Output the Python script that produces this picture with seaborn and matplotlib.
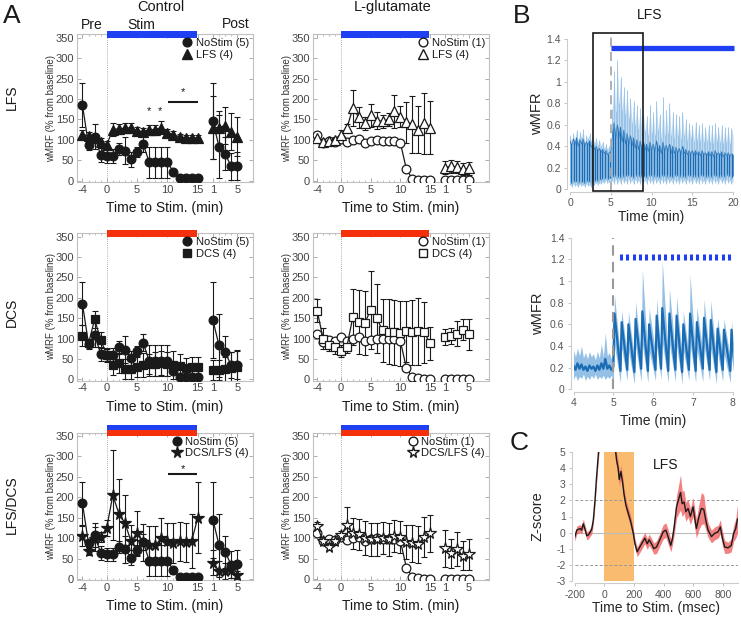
import numpy as np
import pandas as pd
import seaborn as sns
import matplotlib
matplotlib.use('Agg')
import matplotlib.pyplot as plt
from matplotlib.patches import Rectangle
from matplotlib.lines import Line2D

sns.set_theme(style='ticks')
plt.rcParams['font.family'] = ['Liberation Sans', 'DejaVu Sans']
plt.rcParams['text.color'] = '#1a1a1a'

W, H = 741, 617

# ---------------- panel A data (wMRF, % from baseline) ----------------
minutes = list(range(-4, 16))
post_minutes = [1, 2, 3, 4, 5]

ctrl_nostim = [185, 87, 108, 63, 60, 60, 78, 73, 52, 70, 90, 45, 45, 45, 45, 21, 6, 6, 6, 6]
ctrl_nostim_err = [53, 12, 30, 17, 17, 17, 15, 33, 18, 12, 20, 38, 38, 38, 38, 8, 3, 3, 3, 3]
ctrl_nostim_post = [145, 83, 66, 35, 36]
ctrl_nostim_post_err = [93, 77, 40, 33, 35]

ctrl_lfs = [113, 110, 105, 95, 88, 125, 127, 128, 130, 122, 120, 125, 125, 130, 117, 113, 107, 105, 105, 105]
ctrl_lfs_err = [12, 10, 10, 10, 10, 15, 12, 12, 12, 10, 10, 12, 12, 15, 10, 8, 8, 8, 8, 8]
ctrl_lfs_post = [130, 130, 135, 120, 108]
ctrl_lfs_post_err = [78, 40, 45, 45, 47]

ctrl_dcs = [107, 88, 147, 97, 60, 35, 40, 25, 25, 30, 35, 38, 38, 40, 38, 35, 33, 28, 30, 30]
ctrl_dcs_err = [25, 10, 20, 20, 15, 25, 25, 25, 25, 25, 30, 25, 30, 30, 30, 35, 30, 25, 25, 25]
ctrl_dcs_post = [22, 22, 25, 28, 30]
ctrl_dcs_post_err = [25, 25, 30, 40, 40]

ctrl_both = [105, 68, 98, 103, 125, 205, 160, 137, 92, 112, 90, 82, 82, 100, 92, 88, 92, 90, 93, 150]
ctrl_both_err = [25, 10, 30, 12, 20, 110, 85, 68, 40, 55, 45, 48, 48, 50, 45, 48, 48, 48, 67, 87]
ctrl_both_post = [40, 20, 20, 22, 10]
ctrl_both_post_err = [30, 25, 20, 20, 10]

glu_nostim = [112, 92, 97, 95, 103, 95, 100, 103, 93, 97, 100, 98, 98, 98, 93, 28, 5, 2, 1, 1]
glu_nostim_post = [1, 1, 1, 1, 1]

glu_lfs = [105, 95, 97, 100, 113, 128, 178, 155, 140, 160, 147, 145, 150, 170, 157, 143, 138, 125, 140, 130]
glu_lfs_err = [8, 8, 8, 8, 10, 10, 45, 25, 15, 28, 20, 15, 15, 40, 25, 50, 70, 57, 75, 65]
glu_lfs_post = [32, 35, 33, 28, 30]
glu_lfs_post_err = [15, 15, 15, 15, 15]

glu_dcs = [168, 100, 85, 78, 70, 80, 153, 140, 138, 170, 150, 120, 117, 115, 113, 118, 115, 118, 115, 88]
glu_dcs_err = [28, 25, 15, 15, 15, 15, 68, 78, 78, 95, 85, 78, 80, 80, 80, 75, 80, 82, 75, 40]
glu_dcs_post = [103, 107, 112, 122, 110]
glu_dcs_post_err = [20, 20, 30, 25, 38]

glu_both = [130, 93, 78, 92, 107, 132, 112, 110, 100, 97, 97, 100, 97, 105, 103, 90, 87, 85, 103, 112]
glu_both_err = [10, 8, 8, 8, 10, 43, 38, 38, 42, 40, 40, 40, 40, 40, 40, 42, 45, 45, 48, 45]
glu_both_post = [75, 63, 73, 57, 60]
glu_both_post_err = [45, 35, 42, 35, 38]

# ---------------- panel B data (wMFR) ----------------
# top trace, sampled every 0.2 min from 0 to 20
b1_light_hi = [0.50,
               0.44, 0.52, 0.46, 0.55, 0.45, 0.53, 0.48, 0.56, 0.44, 0.50,
               0.47, 0.52, 0.45, 0.49, 0.43, 0.48, 0.41, 0.46, 0.40, 0.44,
               0.38, 0.42, 0.37, 0.40, 0.38,
               0.75, 1.10, 0.72, 1.20, 0.80, 1.05, 0.74, 0.95, 0.70, 0.92,
               0.66, 0.85, 0.62, 0.82, 0.60, 0.78, 0.56, 0.76, 0.55, 0.70,
               0.54, 0.68, 0.50, 0.78, 0.52, 0.72, 0.50, 0.82, 0.55, 0.70,
               0.48, 0.86, 0.50, 0.74, 0.52, 0.80, 0.50, 0.72, 0.48, 0.70,
               0.50, 0.68, 0.47, 0.72, 0.50, 0.65, 0.46, 0.62, 0.48, 0.60,
               0.45, 0.63, 0.46, 0.60, 0.45, 0.62, 0.44, 0.58, 0.45, 0.60,
               0.44, 0.60, 0.43, 0.62, 0.45, 0.58, 0.44, 0.60, 0.43, 0.58,
               0.44, 0.58, 0.43, 0.57, 0.50]
b1_dark_hi = [0.45,
              0.40, 0.47, 0.41, 0.48, 0.40, 0.46, 0.42, 0.47, 0.39, 0.44,
              0.41, 0.45, 0.39, 0.42, 0.37, 0.40, 0.35, 0.38, 0.34, 0.37,
              0.33, 0.36, 0.32, 0.34, 0.35,
              0.50, 0.62, 0.45, 0.60, 0.48, 0.58, 0.44, 0.55, 0.42, 0.52,
              0.40, 0.50, 0.40, 0.48, 0.38, 0.46, 0.37, 0.45, 0.36, 0.44,
              0.36, 0.42, 0.35, 0.44, 0.35, 0.42, 0.34, 0.45, 0.35, 0.41,
              0.33, 0.44, 0.34, 0.41, 0.34, 0.42, 0.33, 0.40, 0.33, 0.39,
              0.33, 0.38, 0.32, 0.40, 0.33, 0.37, 0.32, 0.36, 0.32, 0.36,
              0.31, 0.36, 0.32, 0.35, 0.31, 0.36, 0.31, 0.34, 0.31, 0.35,
              0.31, 0.35, 0.30, 0.36, 0.31, 0.34, 0.31, 0.35, 0.30, 0.34,
              0.31, 0.34, 0.30, 0.33, 0.32]
b1_dark_lo = [0.08,
              0.05, 0.09, 0.06, 0.08, 0.05, 0.09, 0.06, 0.08, 0.05, 0.09,
              0.06, 0.08, 0.05, 0.09, 0.07, 0.10, 0.07, 0.10, 0.08, 0.11,
              0.09, 0.12, 0.09, 0.11, 0.10,
              0.14, 0.10, 0.15, 0.10, 0.14, 0.10, 0.15, 0.10, 0.14, 0.11,
              0.15, 0.11, 0.14, 0.10, 0.15, 0.11, 0.14, 0.10, 0.15, 0.11,
              0.14, 0.10, 0.15, 0.11, 0.14, 0.10, 0.15, 0.11, 0.14, 0.10,
              0.15, 0.11, 0.14, 0.10, 0.15, 0.11, 0.14, 0.10, 0.15, 0.11,
              0.14, 0.10, 0.15, 0.11, 0.14, 0.10, 0.15, 0.11, 0.14, 0.10,
              0.15, 0.11, 0.14, 0.10, 0.15, 0.11, 0.14, 0.10, 0.15, 0.11,
              0.14, 0.10, 0.15, 0.11, 0.14, 0.10, 0.15, 0.11, 0.14, 0.10,
              0.15, 0.11, 0.14, 0.10, 0.13]
b1_light_lo = [0.04,
               0.02, 0.05, 0.03, 0.04, 0.02, 0.05, 0.03, 0.04, 0.02, 0.05,
               0.03, 0.04, 0.02, 0.05, 0.04, 0.06, 0.04, 0.06, 0.05, 0.07,
               0.06, 0.08, 0.06, 0.07, 0.06,
               0.08, 0.05, 0.09, 0.05, 0.08, 0.05, 0.09, 0.06, 0.08, 0.05,
               0.09, 0.06, 0.08, 0.05, 0.09, 0.06, 0.08, 0.05, 0.09, 0.06,
               0.08, 0.05, 0.09, 0.06, 0.08, 0.05, 0.09, 0.06, 0.08, 0.05,
               0.09, 0.06, 0.08, 0.05, 0.09, 0.06, 0.08, 0.05, 0.09, 0.06,
               0.08, 0.05, 0.09, 0.06, 0.08, 0.05, 0.09, 0.06, 0.08, 0.05,
               0.09, 0.06, 0.08, 0.05, 0.09, 0.06, 0.08, 0.05, 0.09, 0.06,
               0.08, 0.05, 0.09, 0.06, 0.08, 0.05, 0.09, 0.06, 0.08, 0.05,
               0.09, 0.06, 0.08, 0.05, 0.07]

# bottom trace: baseline (4-5 min, every 0.05 min) then one spike per LFS pulse
b2_pre_hi = [0.36, 0.30, 0.38, 0.31, 0.40, 0.29, 0.34, 0.28, 0.35, 0.30, 0.33,
             0.27, 0.35, 0.29, 0.42, 0.30, 0.52, 0.31, 0.34, 0.28, 0.35]
b2_pre_mid = [0.22, 0.18, 0.24, 0.19, 0.23, 0.18, 0.21, 0.17, 0.22, 0.19, 0.21,
              0.17, 0.22, 0.18, 0.24, 0.19, 0.28, 0.19, 0.22, 0.18, 0.21]
b2_pre_lo = [0.09, 0.13, 0.08, 0.12, 0.10, 0.14, 0.08, 0.12, 0.09, 0.13, 0.10,
             0.14, 0.09, 0.12, 0.10, 0.13, 0.09, 0.12, 0.10, 0.13, 0.08]
pulse_t = [5.03, 5.21, 5.38, 5.56, 5.73, 5.90, 6.09, 6.23, 6.41,
           6.59, 6.76, 6.93, 7.10, 7.28, 7.45, 7.62, 7.78, 7.97]
pulse_hi = [0.87, 0.73, 0.72, 0.81, 1.11, 0.75, 0.84, 1.19, 0.93,
            0.86, 0.72, 1.06, 0.76, 0.83, 0.82, 0.66, 0.65, 0.63]
pulse_mid = [0.70, 0.62, 0.60, 0.65, 0.72, 0.60, 0.68, 0.75, 0.70,
             0.68, 0.60, 0.70, 0.62, 0.66, 0.64, 0.56, 0.55, 0.55]
pulse_lo = [0.40, 0.38, 0.36, 0.40, 0.42, 0.36, 0.40, 0.44, 0.42,
            0.40, 0.36, 0.42, 0.37, 0.40, 0.38, 0.34, 0.33, 0.33]
trough_hi = [0.30, 0.32, 0.29, 0.33, 0.30, 0.34, 0.31, 0.30, 0.33,
             0.29, 0.32, 0.30, 0.34, 0.31, 0.30, 0.33, 0.29, 0.30]
trough_mid = [0.17, 0.18, 0.16, 0.19, 0.17, 0.18, 0.19, 0.17, 0.18,
              0.16, 0.18, 0.17, 0.19, 0.18, 0.16, 0.18, 0.17, 0.17]
trough_lo = [0.06, 0.08, 0.05, 0.07, 0.06, 0.08, 0.09, 0.06, 0.07,
             0.05, 0.08, 0.06, 0.07, 0.08, 0.05, 0.07, 0.06, 0.06]
pulse_marks = [5.19, 5.35, 5.51, 5.67, 5.83, 5.99, 6.15, 6.31, 6.47,
               6.63, 6.79, 6.95, 7.11, 7.27, 7.43, 7.59, 7.75, 7.91]

# ---------------- panel C data (Z-score) ----------------
c_t = [-200, -186, -175, -164, -153, -142, -130, -119, -108, -97,
       -85, -74, -63, -52, -40, -30, 0, 40, 70, 83,
       94, 101, 112, 124, 133, 146, 162, 178, 196, 207,
       222, 240, 258, 274, 290, 303, 319, 335, 353, 375,
       398, 416, 431, 449, 461, 472, 488, 503, 515, 526,
       539, 551, 566, 582, 600, 611, 622, 640, 656, 672,
       685, 701, 724, 746, 769, 784, 798, 813, 836, 858,
       874, 888, 900]
c_z = [-0.3, 0.15, 0.2, 0.25, 0.15, 0.55, 0.2, -0.2, -0.15, 0.0,
       0.2, 0.8, 2.0, 3.5, 4.9, 6.0, 8.0, 8.0, 5.6, 4.5,
       4.0, 3.3, 3.8, 3.1, 2.4, 1.7, 1.2, 0.7, -0.05, -0.7,
       -1.2, -0.9, -0.6, -0.35, -0.7, -0.45, -0.7, -1.0, -0.9, -0.45,
       0.05, 0.15, -0.25, -0.8, -0.35, 0.35, 1.6, 2.1, 2.5, 1.8,
       1.9, 1.3, 1.5, 1.0, 1.6, 0.9, 0.25, 1.0, 1.5, 1.45,
       0.8, 0.15, -0.25, -0.05, 0.05, 0.35, -0.35, -0.9, -0.95, -0.8,
       -0.05, 0.25, 0.85]
c_sem = [0.25, 0.25, 0.25, 0.25, 0.25, 0.3, 0.25, 0.25, 0.25, 0.25,
         0.3, 0.3, 0.35, 0.4, 0.4, 0.5, 0.5, 0.5, 0.5, 0.45,
         0.45, 0.4, 0.4, 0.4, 0.35, 0.35, 0.35, 0.35, 0.3, 0.3,
         0.3, 0.35, 0.35, 0.35, 0.35, 0.35, 0.35, 0.35, 0.4, 0.4,
         0.45, 0.45, 0.45, 0.4, 0.4, 0.5, 0.7, 0.9, 1.1, 0.8,
         0.7, 0.6, 0.55, 0.5, 0.6, 0.6, 0.6, 0.8, 1.0, 0.9,
         0.6, 0.45, 0.4, 0.4, 0.4, 0.45, 0.45, 0.4, 0.35, 0.4,
         0.5, 0.6, 0.9]

BLUE = '#1f3ff2'
RED = '#f5300c'
DARK = '#1a6cb4'
LIGHT = '#94c0e6'
POST_SHIFT = 16.5


def box(l, t, r, b):
    return [l / W, 1 - b / H, (r - l) / W, (b - t) / H]


def ftext(x, y, s, **kw):
    fig.text(x / W, 1 - y / H, s, ha='center', va='center', **kw)


def style_a(ax, xlim):
    ax.set_xlim(*xlim)
    ax.set_ylim(-3, 358)
    post_pos = [m + POST_SHIFT for m in post_minutes]
    ax.set_xticks([-4, 0, 5, 10, 15, post_pos[0], post_pos[-1]])
    ax.set_xticklabels(['-4', '0', '5', '10', '15', '1', '5'])
    ax.set_xticks(minutes + post_pos, minor=True)
    ax.set_yticks(range(0, 351, 50))
    ax.set_yticklabels([str(v) for v in range(0, 351, 50)])
    ax.tick_params(which='major', direction='in', top=True, right=True, length=3,
                   width=0.6, color='#a0a0a0', labelsize=8, labelcolor='#444', pad=2)
    ax.tick_params(which='minor', direction='in', top=True, right=False, length=1.5,
                   width=0.5, color='#a0a0a0')
    for s in ax.spines.values():
        s.set_color('#c0c0c0')
        s.set_linewidth(0.8)
        s.set_visible(True)
    ax.axvline(0, color='#999', lw=0.6, ls=(0, (1, 1.5)), zorder=0)
    ax.set_ylabel('wMRF (% from baseline)', fontsize=7, color='#333', va='center')
    ax.yaxis.set_label_coords(-0.147, 0.5)
    ax.set_xlabel('Time to Stim. (min)', fontsize=10, color='#1a1a1a', va='center')
    ax.xaxis.set_label_coords(0.5, -0.177)


def draw_series(ax, y, err, yp, errp, marker, filled, ms):
    face = 'k' if filled else 'w'
    post_pos = [m + POST_SHIFT for m in post_minutes]
    for xs, ys, es in ((minutes, y, err), (post_pos, yp, errp)):
        if es is not None:
            ax.errorbar(xs, ys, yerr=es, fmt='none', ecolor='k', elinewidth=0.8,
                        capsize=2.2, capthick=0.8, zorder=2)
        d = pd.DataFrame({'x': xs, 'y': ys})
        sns.lineplot(data=d, x='x', y='y', ax=ax, color='k', linewidth=0.9,
                     marker=marker, markersize=ms, markerfacecolor=face,
                     markeredgecolor='k', markeredgewidth=0.9, zorder=3, legend=False)
    ax.set_xlabel('')
    ax.set_ylabel('')


def stim_bar(ax, colors):
    y0 = 350
    hh = 16 if len(colors) == 1 else 14
    for c in colors:
        ax.add_patch(Rectangle((0, y0), 14.8, hh, color=c, clip_on=False, lw=0, zorder=5))
        y0 += hh


fig = plt.figure(figsize=(W / 100, H / 100), dpi=100)

rows = [
    dict(t=34.4, b=181.9, colors=[BLUE], lab='LFS', laby=97,
         c=(ctrl_lfs, ctrl_lfs_err, ctrl_lfs_post, ctrl_lfs_post_err),
         g=(glu_lfs, glu_lfs_err, glu_lfs_post, glu_lfs_post_err),
         marker='^', ms=6.5, name='LFS (4)'),
    dict(t=233.4, b=380.5, colors=[RED], lab='DCS', laby=312,
         c=(ctrl_dcs, ctrl_dcs_err, ctrl_dcs_post, ctrl_dcs_post_err),
         g=(glu_dcs, glu_dcs_err, glu_dcs_post, glu_dcs_post_err),
         marker='s', ms=5.5, name='DCS (4)'),
    dict(t=432.7, b=580.2, colors=[RED, BLUE], lab='LFS/DCS', laby=505,
         c=(ctrl_both, ctrl_both_err, ctrl_both_post, ctrl_both_post_err),
         g=(glu_both, glu_both_err, glu_both_post, glu_both_post_err),
         marker='*', ms=8.5, name='DCS/LFS (4)'),
]

a_axes = []
for r in rows:
    # control column
    ax = fig.add_axes(box(77, r['t'], 253, r['b']))
    draw_series(ax, ctrl_nostim, ctrl_nostim_err, ctrl_nostim_post, ctrl_nostim_post_err,
                'o', True, 6.3)
    draw_series(ax, *r['c'], r['marker'], True, r['ms'])
    style_a(ax, (-4.9, 24.1))
    stim_bar(ax, r['colors'])
    hd = [Line2D([], [], ls='none', marker='o', ms=6.3, mfc='k', mec='k'),
          Line2D([], [], ls='none', marker=r['marker'], ms=r['ms'], mfc='k', mec='k')]
    ax.legend(hd, ['NoStim (5)', r['name']], loc='upper right', bbox_to_anchor=(1.0, 1.0),
              frameon=False, fontsize=8, handletextpad=0.3, labelspacing=0.15,
              borderaxespad=0.15, borderpad=0.2, handlelength=1.0)
    a_axes.append(ax)
    # L-glutamate column
    ax2 = fig.add_axes(box(313, r['t'], 489, r['b']))
    draw_series(ax2, glu_nostim, None, glu_nostim_post, None, 'o', False, 6.3)
    draw_series(ax2, *r['g'], r['marker'], False, r['ms'])
    style_a(ax2, (-4.7, 24.9))
    stim_bar(ax2, r['colors'])
    hd = [Line2D([], [], ls='none', marker='o', ms=6.3, mfc='w', mec='k'),
          Line2D([], [], ls='none', marker=r['marker'], ms=r['ms'], mfc='w', mec='k')]
    ax2.legend(hd, ['NoStim (1)', r['name']], loc='upper right', bbox_to_anchor=(1.0, 1.0),
               frameon=False, fontsize=8, handletextpad=0.3, labelspacing=0.15,
               borderaxespad=0.15, borderpad=0.2, handlelength=1.0)
    ftext(12, r['laby'], r['lab'], fontsize=10, rotation=90)

# significance marks
ax = a_axes[0]
ax.text(7, 170, '*', ha='center', va='center', fontsize=8)
ax.text(8.8, 170, '*', ha='center', va='center', fontsize=8)
ax.plot([10.15, 15.1], [192, 192], color='k', lw=1.5, solid_capstyle='butt')
ax.text(12.6, 218, '*', ha='center', va='center', fontsize=8)
ax = a_axes[2]
ax.plot([10.15, 14.9], [256, 256], color='k', lw=1.5, solid_capstyle='butt')
ax.text(12.5, 268, '*', ha='center', va='center', fontsize=8)

ftext(12, 16, 'A', fontsize=19)
ftext(161, 7, 'Control', fontsize=10.5)
ftext(393, 7, 'L-glutamate', fontsize=10.5)
ftext(92, 25, 'Pre', fontsize=10)
ftext(141, 25, 'Stim', fontsize=10)
ftext(236, 24, 'Post', fontsize=10)


def style_b(ax):
    sns.despine(ax=ax, offset=2)
    for s in ('left', 'bottom'):
        ax.spines[s].set_color('#cccccc')
        ax.spines[s].set_linewidth(0.8)
    ax.tick_params(direction='out', length=2.5, width=0.6, color='#bbbbbb',
                   labelsize=7.5, labelcolor='#555', pad=2)


# ---------------- panel B top ----------------
b1_t = np.round(np.arange(len(b1_light_hi)) * 0.2, 1)
axb = fig.add_axes(box(570, 39, 733, 189))
axb.fill_between(b1_t, b1_light_lo, b1_light_hi, color=LIGHT, alpha=0.6, lw=0)
axb.vlines(b1_t, b1_light_lo, b1_light_hi, color=LIGHT, lw=0.6)
axb.fill_between(b1_t, b1_dark_lo, b1_dark_hi, color=DARK, ec=DARK, lw=0.3)
sns.lineplot(x=b1_t, y=b1_dark_hi, ax=axb, color=DARK, linewidth=0.4)
axb.set_xlim(0, 20)
axb.set_ylim(0, 1.4)
axb.set_xticks([0, 5, 10, 15, 20])
axb.set_xticklabels(['0', '5', '10', '15', '20'])
axb.set_yticks([0, 0.2, 0.4, 0.6, 0.8, 1, 1.2, 1.4])
axb.set_yticklabels(['0', '0.2', '0.4', '0.6', '0.8', '1', '1.2', '1.4'])
style_b(axb)
axb.plot([5, 5], [-0.02, 1.46], color='#aaaaaa', lw=1.3, ls=(0, (5, 3)), clip_on=False, zorder=4)
axb.plot([5, 20.1], [1.32, 1.32], color=BLUE, lw=3.8, solid_capstyle='butt', clip_on=False, zorder=5)
axb.add_patch(Rectangle((2.8, -0.017), 6.1, 1.477, fill=False, ec='k', lw=1.2,
                        clip_on=False, zorder=6))
axb.set_ylabel('wMFR', fontsize=10.5, va='center')
axb.yaxis.set_label_coords(-0.2, 0.5)
axb.set_xlabel('Time (min)', fontsize=10, va='center')
axb.xaxis.set_label_coords(0.5, -0.19)
ftext(522, 16, 'B', fontsize=19)
ftext(650, 15, 'LFS', fontsize=10)

# ---------------- panel B bottom ----------------
b2_pre_t = list(np.round(4 + np.arange(len(b2_pre_hi)) * 0.05, 2))
trough_t = [t - 0.03 for t in pulse_t[1:]] + [8.05]
b2_t, b2_hi, b2_mid, b2_lo = list(b2_pre_t), list(b2_pre_hi), list(b2_pre_mid), list(b2_pre_lo)
for i in range(len(pulse_t)):
    b2_t += [pulse_t[i], trough_t[i]]
    b2_hi += [pulse_hi[i], trough_hi[i]]
    b2_mid += [pulse_mid[i], trough_mid[i]]
    b2_lo += [pulse_lo[i], trough_lo[i]]

axb2 = fig.add_axes(box(573.5, 237.7, 732.7, 389.3))
axb2.fill_between(b2_t, b2_lo, b2_hi, color=LIGHT, lw=0)
sns.lineplot(x=b2_t, y=b2_mid, ax=axb2, color=DARK, linewidth=1.6, sort=False)
axb2.set_xlim(4, 8)
axb2.set_ylim(0, 1.4)
axb2.set_xticks([4, 5, 6, 7, 8])
axb2.set_xticklabels(['4', '5', '6', '7', '8'])
axb2.set_yticks([0, 0.2, 0.4, 0.6, 0.8, 1, 1.2, 1.4])
axb2.set_yticklabels(['0', '0.2', '0.4', '0.6', '0.8', '1', '1.2', '1.4'])
style_b(axb2)
axb2.plot([5, 5], [0, 1.4], color='#999999', lw=1.5, ls=(0, (5, 3)), zorder=4)
axb2.vlines(pulse_marks, 1.19, 1.25, color=BLUE, lw=2.2, zorder=5)
axb2.set_ylabel('wMFR', fontsize=10.5, va='center')
axb2.yaxis.set_label_coords(-0.22, 0.5)
axb2.set_xlabel('Time (min)', fontsize=10, va='center')
axb2.xaxis.set_label_coords(0.5, -0.21)

# ---------------- panel C ----------------
axc = fig.add_axes(box(574.7, 452.3, 737.5, 580.7))
axc.axvspan(0, 200, color='#f8bb70', lw=0, zorder=0)
zl = [z - s for z, s in zip(c_z, c_sem)]
zh = [z + s for z, s in zip(c_z, c_sem)]
axc.fill_between(c_t, zl, zh, color='#f06b6b', alpha=0.85, lw=0, zorder=1)
sns.lineplot(x=c_t, y=c_z, ax=axc, color='k', linewidth=1.0, zorder=3)
axc.axhline(0, color='#bbbbbb', lw=0.8, zorder=0.5)
for yv in (2, -2):
    axc.axhline(yv, color='#999999', lw=0.7, ls=(0, (3, 2)), zorder=0.5)
axc.set_xlim(-200, 900)
axc.set_ylim(-3, 5)
axc.set_xticks([-200, 0, 200, 400, 600, 800])
axc.set_xticklabels(['-200', '0', '200', '400', '600', '800'])
axc.set_yticks(range(-3, 6))
axc.set_yticklabels([str(v) for v in range(-3, 6)])
style_b(axc)
axc.text(417, 4.2, 'LFS', fontsize=10, ha='center', va='center')
axc.set_ylabel('Z-score', fontsize=10.5, va='center')
axc.yaxis.set_label_coords(-0.23, 0.5)
axc.set_xlabel('Time to Stim. (msec)', fontsize=10, va='center')
axc.xaxis.set_label_coords(0.5, -0.21)
ftext(519, 443, 'C', fontsize=19)

fig.savefig('out.png', dpi=100)
